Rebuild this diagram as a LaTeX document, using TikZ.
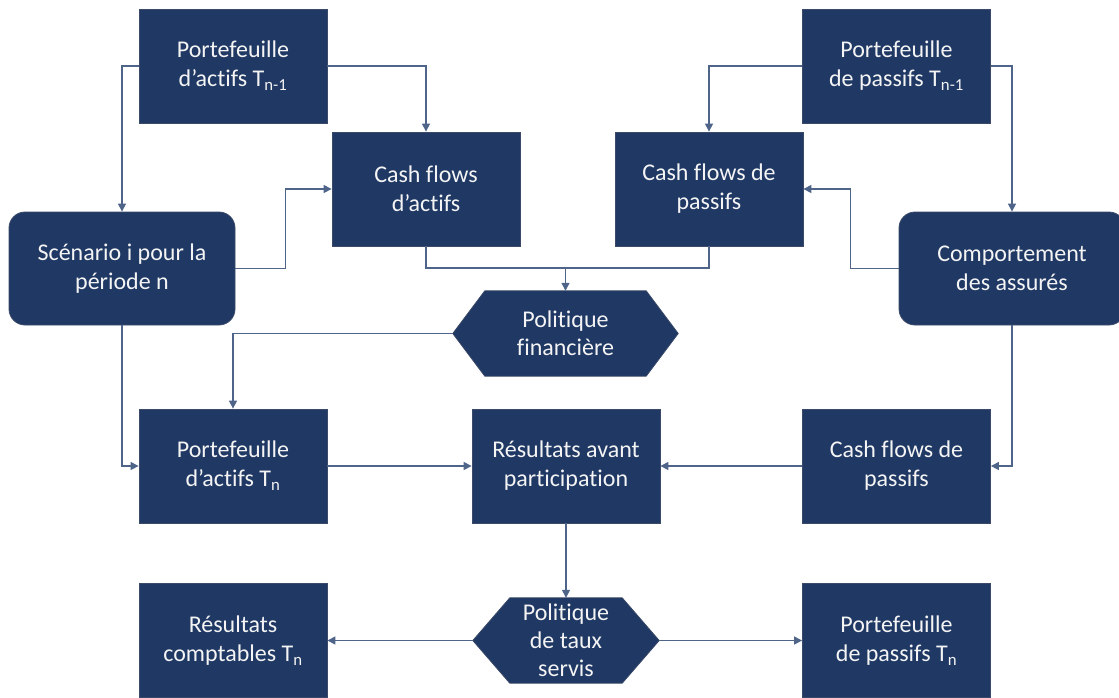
\documentclass[tikz,border=0pt]{standalone}
\usepackage{fontspec}
\setmainfont{Carlito}[Ligatures={NoCommon,NoRare}]
\usetikzlibrary{arrows.meta,backgrounds,calc}
\definecolor{boxfill}{HTML}{1F3864}
\definecolor{boxline}{HTML}{3A4A68}
\definecolor{linec}{HTML}{4E6488}
\definecolor{txt}{HTML}{F4F4F4}
\tikzset{
  basebox/.style={fill=boxfill, draw=boxline, line width=0.8pt, text=txt,
    font=\fontsize{24}{29}\selectfont, align=center, inner sep=0pt},
  rectbox/.style={basebox, minimum width=188pt, minimum height=114pt},
  roundbox/.style={basebox, rounded corners=16pt, minimum width=226pt, minimum height=113pt},
  hexnode/.style={text=txt, font=\fontsize{24}{28}\selectfont, align=center, inner sep=0pt, minimum height=85pt},
  conn/.style={draw=linec, line width=1.2pt},
  arr/.style={conn, -{Triangle[length=8pt,width=8pt]}},
}
\begin{document}
\begin{tikzpicture}[x=1pt,y=-1pt]
\useasboundingbox (0,0) rectangle (1119,697);

% nodes
\node[rectbox] (pa1) at (233,66) {Portefeuille\\d’actifs T\textsubscript{n-1}};
\node[rectbox] (cfa) at (426,189) {Cash flows\\d’actifs};
\node[roundbox] (scen) at (122,268.5) {Scénario i pour la\\période n};
\node[rectbox] (pp1) at (896.5,66) {Portefeuille\\de passifs T\textsubscript{n-1}};
\node[rectbox] (cfp1) at (709,189) {Cash flows de\\passifs};
\node[roundbox] (comp) at (1012,268.5) {Comportement\\des assurés};
\node[hexnode, minimum width=225pt] (pf) at (565.5,333.5) {Politique\\financière};
\node[rectbox] (pan) at (233,466) {Portefeuille\\d’actifs T\textsubscript{n}};
\node[rectbox] (res) at (566,466) {Résultats avant\\participation};
\node[rectbox] (cfp2) at (896.5,466) {Cash flows de\\passifs};
\node[hexnode, minimum width=186pt] (pts) at (566,640.5) {Politique\\de taux\\servis};
\node[rectbox] (rc) at (233,640.5) {Résultats\\comptables T\textsubscript{n}};
\node[rectbox] (ppn) at (896.5,640.5) {Portefeuille\\de passifs T\textsubscript{n}};

% hexagon shapes behind text
\begin{scope}[on background layer]
\path[fill=boxfill, draw=boxline, line width=0.8pt]
  (pf.west) -- ([xshift=32pt]pf.north west) -- ([xshift=-32pt]pf.north east)
  -- (pf.east) -- ([xshift=-32pt]pf.south east) -- ([xshift=32pt]pf.south west) -- cycle;
\path[fill=boxfill, draw=boxline, line width=0.8pt]
  (pts.west) -- ([xshift=37pt]pts.north west) -- ([xshift=-37pt]pts.north east)
  -- (pts.east) -- ([xshift=-37pt]pts.south east) -- ([xshift=37pt]pts.south west) -- cycle;
\end{scope}

% connectors
\draw[arr] (pa1.west) -| (scen.north);
\draw[arr] (pa1.east) -| (cfa.north);
\draw[arr] (scen.east) -- ++(50,0) |- (cfa.west);
\draw[arr] (pp1.west) -| (cfp1.north);
\draw[arr] (pp1.east) -| (comp.north);
\draw[arr] (comp.west) -- ++(-48,0) |- (cfp1.east);
\coordinate (j) at (565.5,268);
\draw[conn] (cfa.south) |- (j);
\draw[conn] (cfp1.south) |- (j);
\draw[arr] (j) -- (pf.north);
\draw[arr] (pf.west) -| (pan.north);
\draw[arr] (scen.south) |- (pan.west);
\draw[arr] (comp.south) |- (cfp2.east);
\draw[arr] (pan.east) -- (res.west);
\draw[arr] (cfp2.west) -- (res.east);
\draw[arr] (res.south) -- (pts.north);
\draw[arr] (pts.west) -- (rc.east);
\draw[arr] (pts.east) -- (ppn.west);
\end{tikzpicture}
\end{document}
